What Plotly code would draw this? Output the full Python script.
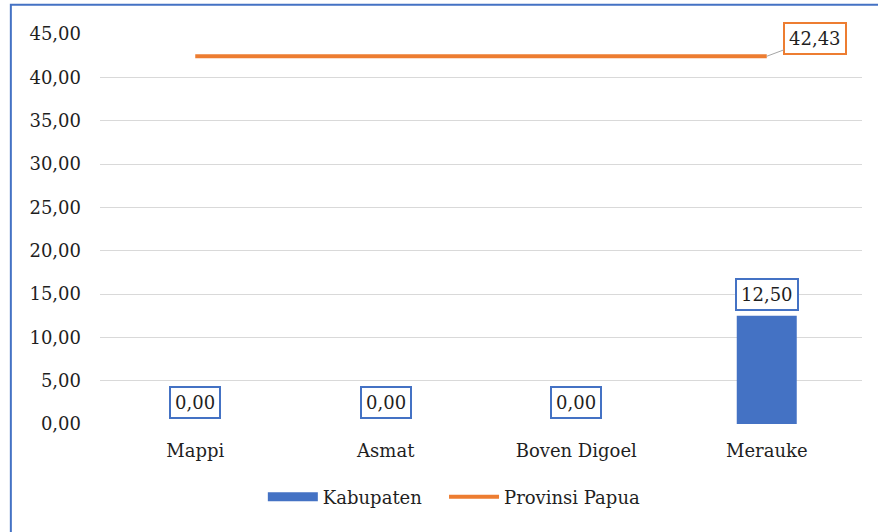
import plotly.graph_objects as go

categories = ["Mappi", "Asmat", "Boven Digoel", "Merauke"]
kabupaten = [0.00, 0.00, 0.00, 12.50]
provinsi_papua = [42.43, 42.43, 42.43, 42.43]
y_ticks = [0, 5, 10, 15, 20, 25, 30, 35, 40, 45]

BLUE = "#4472C4"
ORANGE = "#ED7D31"
FONT = "DejaVu Serif"
TEXT = "#1F1F1F"
SIZE = 18


def fmt(v):
    return f"{v:.2f}".replace(".", ",")


fig = go.Figure()
fig.add_trace(go.Bar(
    x=categories, y=kabupaten, name="Kabupaten", showlegend=False,
    marker=dict(color=BLUE, line=dict(width=0)), width=0.315,
))
fig.add_trace(go.Scatter(
    x=categories, y=provinsi_papua, name="Provinsi Papua", mode="lines",
    line=dict(color=ORANGE, width=4), showlegend=False,
))
# legend entries: a wide blue swatch for the bars, an orange line for the province
fig.add_trace(go.Scatter(
    x=[None], y=[None], name="Kabupaten   ", mode="lines",
    line=dict(color=BLUE, width=9),
))
fig.add_trace(go.Scatter(
    x=[None], y=[None], name="Provinsi Papua", mode="lines",
    line=dict(color=ORANGE, width=4),
))

annotations = []
for c, v in zip(categories, kabupaten):
    annotations.append(dict(
        x=c, y=v, xref="x", yref="y", text=fmt(v), showarrow=False,
        yanchor="bottom", yshift=5, font=dict(family=FONT, size=SIZE, color=TEXT),
        bordercolor=BLUE, borderwidth=2, borderpad=4, bgcolor="white",
    ))
annotations.append(dict(
    x=categories[-1], y=provinsi_papua[-1], xref="x", yref="y",
    text=fmt(provinsi_papua[-1]), showarrow=True, arrowhead=0, arrowwidth=1,
    arrowcolor="#A6A6A6", ax=48, ay=-18,
    font=dict(family=FONT, size=SIZE, color=TEXT),
    bordercolor=ORANGE, borderwidth=2, borderpad=4, bgcolor="white",
))

fig.update_layout(
    width=878, height=532,
    margin=dict(l=100, r=16, t=34, b=108, autoexpand=False),
    paper_bgcolor="white", plot_bgcolor="white",
    font=dict(family=FONT, size=SIZE, color=TEXT),
    showlegend=True,
    legend=dict(orientation="h", x=0.465, xanchor="center", y=-0.187, yanchor="middle",
                font=dict(family=FONT, size=SIZE, color=TEXT), itemwidth=50,
                tracegroupgap=0),
    annotations=annotations,
    shapes=[
        dict(type="rect", xref="paper", yref="paper", x0=-0.117, x1=1.05, y0=-0.5, y1=1.075,
             line=dict(color=BLUE, width=2), layer="below"),
    ],
)
fig.update_xaxes(showgrid=False, showline=False, ticks="", tickfont=dict(size=SIZE),
                 ticklabelstandoff=14)
fig.update_yaxes(
    range=[0, 45], tickvals=y_ticks, ticktext=[fmt(t) for t in y_ticks],
    showgrid=True, gridcolor="#D9D9D9", gridwidth=1, zeroline=False,
    ticks="", ticklabelstandoff=18, tickfont=dict(size=SIZE),
)

fig.write_html("out.html")
